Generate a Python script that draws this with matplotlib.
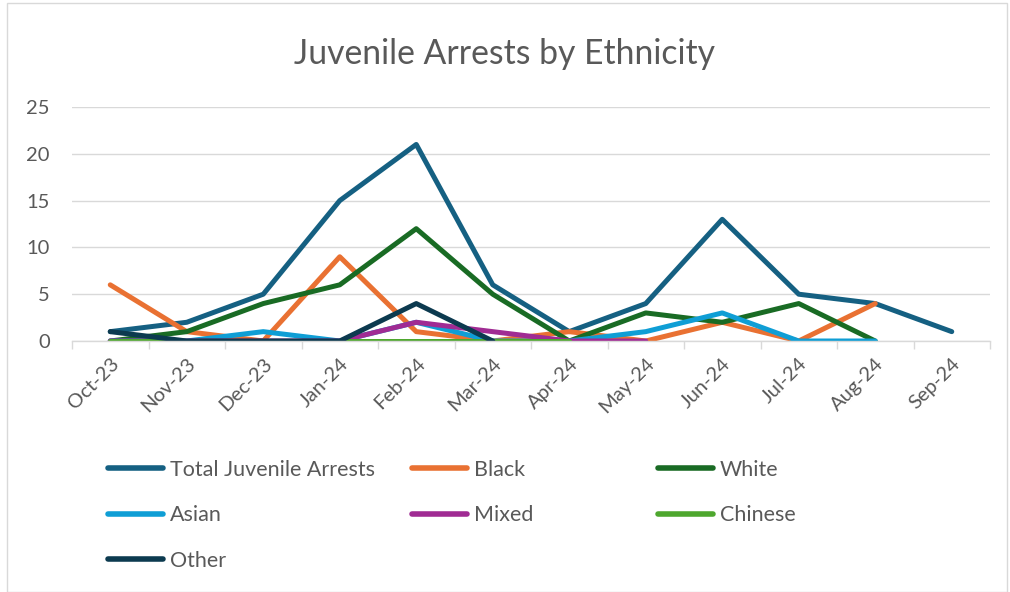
import matplotlib
matplotlib.use("Agg")
import matplotlib.pyplot as plt
from matplotlib.patches import Rectangle

months = ["Oct-23", "Nov-23", "Dec-23", "Jan-24", "Feb-24", "Mar-24",
          "Apr-24", "May-24", "Jun-24", "Jul-24", "Aug-24", "Sep-24"]

total = [1, 2, 5, 15, 21, 6, 1, 4, 13, 5, 4, 1]
black = [6, 1, 0, 9, 1, 0, 1, 0, 2, 0, 4]
white = [0, 1, 4, 6, 12, 5, 0, 3, 2, 4, 0]
asian = [0, 0, 1, 0, 2, 0, 0, 1, 3, 0, 0]
mixed = [0, 0, 0, 0, 2, 1, 0, 0]
chinese = [0, 0, 0, 0, 0, 0, 0]
other = [1, 0, 0, 0, 4, 0]

series = [
    ("Total Juvenile Arrests", total, "#156082"),
    ("Black", black, "#E97132"),
    ("White", white, "#196B24"),
    ("Asian", asian, "#0F9ED5"),
    ("Mixed", mixed, "#A02B93"),
    ("Chinese", chinese, "#4EA72E"),
    ("Other", other, "#0C3A4F"),
]

W, H = 1010, 592
fig = plt.figure(figsize=(W / 100, H / 100), dpi=100)
plt.rcParams['font.family'] = ['Lato', 'DejaVu Sans']
txt = "#595959"

ax = fig.add_axes([72 / W, 1 - 341 / H, (990 - 72) / W, (341 - 107) / H])
handles = {}
for name, vals, col in series:
    ln, = ax.plot(range(len(vals)), vals, color=col, lw=3.6,
                  solid_capstyle="round", solid_joinstyle="round", label=name)
    handles[name] = ln

ax.set_xlim(-0.5, len(months) - 0.5)
ax.set_ylim(0, 25)
ax.set_yticks(range(0, 26, 5))
ax.yaxis.grid(True, color="#D9D9D9", lw=1)
ax.set_axisbelow(True)
for s in ["top", "right", "left"]:
    ax.spines[s].set_visible(False)
ax.spines["bottom"].set_color("#D9D9D9")
ax.spines["bottom"].set_linewidth(1)
ax.tick_params(axis="y", length=0, labelsize=14.5, labelcolor=txt, pad=16)
ax.set_xticks(range(len(months)))
ax.set_xticklabels(months, rotation=45, ha="right", rotation_mode="anchor",
                   fontsize=14.5, color=txt)
ax.tick_params(axis="x", which="major", length=0, pad=10)
ax.set_xticks([i - 0.5 for i in range(len(months) + 1)], minor=True)
ax.tick_params(axis="x", which="minor", length=6, color="#D9D9D9", width=1)

fig.text(0.5, 1 - 64 / H, "Juvenile Arrests by Ethnicity", ha="center",
         va="baseline", fontsize=24.3, color=txt)

cols = [(["Total Juvenile Arrests", "Asian", "Other"], 108),
        (["Black", "Mixed"], 412),
        (["White", "Chinese"], 658)]
for names, xpix in cols:
    leg = fig.legend([handles[n] for n in names], names,
                     loc="upper left", bbox_to_anchor=(xpix / W, 1 - 460 / H),
                     frameon=False, fontsize=15.5, handlelength=2.55,
                     handletextpad=0.33, labelspacing=1.18,
                     borderpad=0, borderaxespad=0)
    for t in leg.get_texts():
        t.set_color(txt)
    for l in leg.get_lines():
        l.set_linewidth(4)

fig.add_artist(Rectangle((7 / W, 0), (1007 - 7) / W, 1 - 3 / H,
                         transform=fig.transFigure, fill=False,
                         edgecolor="#D9D9D9", lw=1))

fig.savefig("out.png", dpi=100)
